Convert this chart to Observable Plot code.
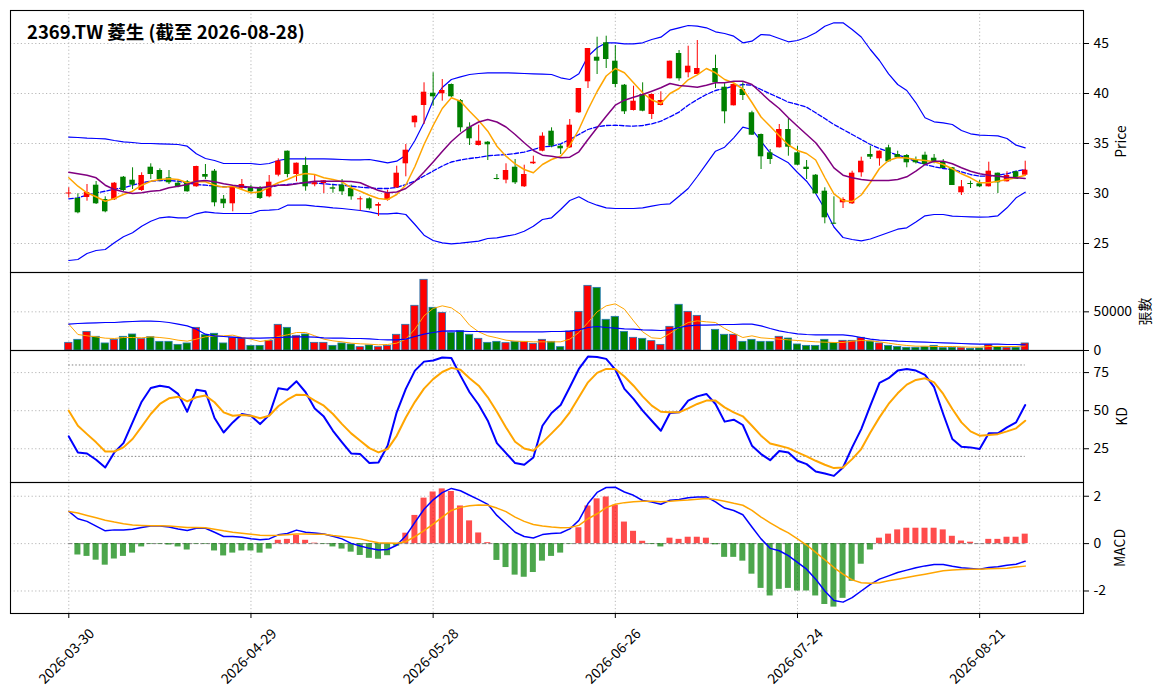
<!DOCTYPE html>
<html><head><meta charset="utf-8">
<script src="https://cdn.jsdelivr.net/npm/d3@7"></script>
<script src="https://cdn.jsdelivr.net/npm/@observablehq/plot@0.6"></script>
<style>
body{margin:0;background:#fff;}
#chart{position:relative;width:1163px;height:698px;overflow:hidden;}
#chart svg{position:absolute;left:0;overflow:visible !important;background:transparent !important;}
</style></head><body><div id="chart"></div>
<script>
const title = "2369.TW 菱生 (截至 2026-08-28)";
const tickIndex = [0, 20, 40, 60, 80, 100];
const tickLabels = ["2026-03-30", "2026-04-29", "2026-05-28", "2026-06-26", "2026-07-24", "2026-08-21"];

const open = [
29.95,29.5,29.6,30.83,29.4,29.37,31.63,31.33,30.3,32.63,
32.3,31.57,31.03,31.17,30.67,31.9,32.23,29.43,28.97,30.5,
30.63,30.5,29.67,31.83,34.23,31.9,32.8,30.87,31.0,30.57,
30.83,30.5,29.37,29.47,28.73,29.33,30.57,32.97,37.07,38.8,
40.03,39.97,40.9,39.3,36.63,34.8,35.13,31.5,31.33,32.63,
30.67,32.97,34.23,36.23,34.73,34.57,38.07,41.17,43.63,45.07,
43.23,40.83,38.3,39.9,37.9,38.8,41.47,44.0,42.07,41.9,
42.5,42.5,40.63,38.77,40.4,38.07,35.9,34.07,34.57,36.4,
34.07,32.63,31.83,30.23,27.03,29.07,28.97,32.07,33.9,33.47,
34.57,33.9,33.8,33.4,33.83,33.53,33.17,32.57,30.07,31.0,
30.97,30.67,32.03,31.17,32.17,31.83];
const high = [
30.57,29.97,30.9,31.2,29.67,31.1,31.7,32.57,32.07,32.97,
32.47,32.3,31.27,31.3,32.73,32.9,32.4,29.8,30.7,31.4,
30.83,30.7,31.8,33.47,34.25,33.05,33.63,31.83,31.3,30.83,
31.4,30.83,29.67,29.57,29.07,30.33,32.73,34.9,37.8,41.07,
42.07,41.4,40.95,39.4,37.07,36.83,35.2,31.9,32.97,33.4,
32.83,33.73,36.07,36.57,34.9,37.4,40.5,44.5,45.63,45.73,
44.8,40.9,40.73,41.07,39.95,40.17,43.25,44.3,44.73,45.3,
42.5,43.83,41.07,40.95,41.07,38.23,35.95,34.4,36.9,37.5,
34.73,33.3,31.9,30.57,29.67,29.57,32.23,33.63,34.73,34.25,
34.83,34.23,33.9,33.65,34.13,33.9,33.4,32.6,31.3,31.23,
31.3,33.13,32.05,32.17,32.2,33.23];
const low = [
29.57,27.97,29.23,28.9,28.07,29.3,30.2,30.4,30.2,31.4,
31.17,30.9,30.57,30.13,30.63,31.4,28.67,28.5,28.17,30.4,
29.97,29.4,29.57,31.67,31.57,31.17,30.23,30.67,30.0,30.03,
29.8,29.33,28.23,28.33,27.7,29.23,30.5,31.67,36.57,36.9,
38.73,39.23,39.6,36.13,34.8,34.75,33.3,31.35,30.97,30.9,
30.6,32.9,34.17,34.57,33.9,34.5,38.0,40.5,41.9,42.5,
40.57,37.9,38.25,38.17,37.4,38.75,41.45,41.23,41.57,41.9,
42.5,40.5,36.97,38.75,39.3,35.8,32.4,32.9,34.55,33.73,
32.8,31.4,29.9,26.97,26.9,28.5,28.9,31.63,33.4,32.73,
33.15,33.55,32.57,32.95,32.85,32.97,32.5,30.8,29.8,30.5,
30.6,30.65,30.0,31.15,31.4,31.73];
const close = [
30.05,28.07,30.1,28.97,28.17,31.03,30.3,30.83,31.8,31.9,
31.4,31.07,30.63,30.17,32.7,31.63,29.07,28.97,30.63,30.9,
30.17,29.5,31.13,33.23,31.9,33.03,30.67,31.07,31.27,30.43,
30.17,29.67,29.47,28.47,28.9,30.0,32.03,34.33,37.73,40.13,
39.67,40.3,39.67,36.57,35.47,35.23,34.87,31.4,32.3,31.07,
31.9,33.13,35.73,34.73,34.47,36.83,40.5,44.5,43.23,43.4,
40.9,38.17,39.23,38.23,39.9,39.3,43.23,41.47,42.73,42.5,
42.5,41.07,38.17,40.9,39.8,35.83,33.67,33.4,36.4,34.63,
32.83,32.4,29.97,27.57,26.93,29.4,32.03,33.23,33.63,34.23,
33.17,33.57,33.07,33.07,32.9,33.17,32.5,30.8,30.67,30.9,
30.67,32.23,31.07,31.8,31.4,32.33];
const ma5 = [
31.57,30.73,30.07,29.67,29.23,29.5,29.9,30.23,30.83,31.23,
31.4,31.47,31.4,31.07,31.17,31.17,30.83,30.63,30.73,30.4,
30.07,30.17,30.63,31.07,31.4,31.8,32.0,31.9,31.57,31.4,
31.17,30.57,30.23,29.83,29.5,29.4,29.9,30.85,32.7,34.9,
36.8,38.5,39.57,39.23,38.23,37.3,36.23,34.73,33.73,32.97,
32.4,32.07,32.9,33.4,33.73,34.8,36.4,38.4,40.2,41.75,
42.5,42.07,41.07,40.07,39.35,39.0,40.0,40.5,41.37,41.87,
42.5,42.07,41.4,41.05,40.45,39.1,37.65,36.73,35.77,34.85,
34.3,34.0,33.35,31.6,29.97,29.28,29.2,29.85,31.1,32.5,
33.3,33.6,33.55,33.4,33.3,33.17,32.9,32.47,31.97,31.57,
31.07,31.07,31.23,31.4,31.57,31.83];
const ma10 = [
32.13,31.97,31.83,31.57,30.83,30.4,30.17,30.0,30.07,30.23,
30.3,30.57,30.73,30.9,31.23,31.3,31.17,30.97,30.83,30.73,
30.63,30.57,30.7,30.83,30.83,30.97,31.1,31.23,31.23,31.23,
31.23,31.2,31.07,30.67,30.3,30.07,30.15,30.5,31.2,32.15,
33.15,34.2,35.2,36.0,36.65,37.15,37.4,37.15,36.65,35.9,
35.07,34.3,33.83,33.73,33.57,33.63,34.17,35.4,36.57,37.73,
38.83,39.33,39.63,39.9,40.23,40.57,41.0,40.8,40.73,40.63,
40.83,41.07,41.07,41.23,41.23,40.9,40.07,39.23,38.5,37.57,
36.73,35.9,35.07,33.9,32.57,31.83,31.57,31.4,31.3,31.3,
31.3,31.4,31.67,32.23,32.9,33.23,33.23,32.97,32.57,32.23,
31.97,31.83,31.73,31.63,31.57,31.5];
const ma20 = [
29.47,29.57,29.83,30.07,30.23,30.43,30.57,30.83,31.07,31.23,
31.3,31.3,31.23,31.07,30.9,30.83,30.73,30.67,30.67,30.63,
30.57,30.57,30.6,30.83,30.9,31.0,31.07,31.07,30.97,30.9,
30.83,30.73,30.63,30.57,30.5,30.5,30.6,30.9,31.25,31.75,
32.25,32.75,33.15,33.35,33.5,33.62,33.77,33.83,33.9,34.0,
34.13,34.4,34.67,34.73,34.97,35.4,35.9,36.4,36.67,36.8,
36.83,36.77,36.73,36.8,36.97,37.23,37.67,38.13,38.83,39.4,
39.9,40.3,40.5,40.73,40.9,40.83,40.4,39.97,39.57,39.13,
38.9,38.63,38.07,37.5,36.9,36.4,35.9,35.4,34.9,34.5,
34.17,33.83,33.57,33.17,32.9,32.67,32.5,32.4,32.17,31.9,
31.73,31.73,31.83,31.97,32.23,32.4];
const bbUpper = [
35.63,35.6,35.53,35.5,35.47,35.3,35.17,35.1,35.0,35.0,
34.97,34.93,34.9,34.73,33.97,33.5,33.3,33.0,33.0,33.0,
33.0,32.9,33.0,33.3,33.47,33.47,33.47,33.47,33.47,33.43,
33.4,33.37,33.37,33.4,33.23,33.07,33.23,33.83,35.3,37.1,
39.3,40.6,41.4,41.67,41.9,42.0,42.07,42.07,42.07,42.03,
42.0,41.97,41.93,41.9,41.57,41.4,41.97,43.73,44.57,45.07,
45.07,44.97,44.97,45.07,45.4,45.63,46.33,46.57,46.8,46.73,
46.57,46.17,46.0,45.73,45.07,45.23,45.9,45.83,45.5,45.17,
45.3,45.63,46.07,46.73,47.07,47.07,46.4,45.65,44.4,43.3,
41.97,40.9,40.3,39.07,37.57,37.17,37.07,36.9,36.3,35.97,
35.83,35.8,35.77,35.5,34.83,34.57];
const bbLower = [
23.3,23.4,24.0,24.3,24.4,25.07,25.67,26.07,26.73,27.23,
27.57,27.67,27.57,27.57,27.97,28.17,28.07,28.0,28.0,28.0,
28.0,28.3,28.33,28.4,28.83,28.83,28.83,28.73,28.67,28.57,
28.5,28.4,28.3,28.17,27.97,27.97,28.03,27.9,26.9,25.83,
25.3,25.07,24.97,25.03,25.13,25.23,25.5,25.57,25.73,25.9,
26.23,26.73,27.4,27.57,28.4,29.3,29.67,29.17,28.83,28.57,
28.5,28.5,28.5,28.57,28.73,28.9,28.97,29.73,30.5,31.7,
32.97,34.23,34.63,35.57,36.63,36.4,35.23,34.07,33.57,33.07,
32.1,31.23,30.0,28.45,26.65,25.6,25.4,25.27,25.45,25.78,
26.1,26.43,26.57,27.15,27.77,27.9,27.9,27.73,27.7,27.67,
27.63,27.67,27.77,28.57,29.57,30.13];
const volume = [
9900,13800,24100,17700,9100,13800,17700,20700,14700,17200,
11200,11200,7300,9100,29300,19800,21600,9100,16400,15500,
6000,6000,12500,33200,29300,19000,20700,9900,9900,6000,
9100,7800,4300,6500,4300,6000,20300,33200,57800,91400,
55200,48700,22800,25000,20300,15100,9900,11200,9500,11200,
11200,8600,13800,11200,4300,24600,50000,83600,81000,39700,
43500,24100,16400,15100,12100,7300,30600,59100,50000,44800,
0,26700,20300,20300,11200,13800,11200,11200,17700,15500,
7800,6000,6000,13800,9500,12500,12500,16400,11600,9100,
6000,4700,3500,3500,4300,6000,3000,3500,3000,2200,
2600,6900,4700,3500,3500,9100];
const volMa5 = [
34050,20690,18960,17670,15950,15520,16810,16810,16380,17670,
16810,15520,13360,12070,14650,17670,18960,18960,19830,16810,
14650,11640,13360,18100,20260,23270,23270,18960,14650,12500,
11200,9480,8620,8190,7330,7760,9480,14650,27580,44820,
54310,57750,55170,46980,32760,24140,18960,16380,13360,12070,
11640,11200,11200,11200,11200,14650,23270,36200,50000,57750,
60340,53440,38360,24140,16380,15520,21980,29740,36200,38360,
37070,36200,28450,22410,16810,18960,16380,15520,14650,13800,
12930,12070,11200,10780,10340,10340,12070,12930,12500,11200,
9480,7760,6470,5600,5600,5170,5170,5170,4740,4310,
4310,5170,5170,5170,5170,6030];
const volMa20 = [
34050,34910,35340,35770,36200,36200,37070,37500,37930,37930,
37500,36200,34050,31890,27580,21120,18960,18100,17240,16380,
15950,15950,16380,16810,17240,17670,17670,17240,16380,15950,
15950,15520,15520,15090,14220,13800,13800,14650,18100,21120,
23270,25000,25430,25000,24570,24570,24140,24140,24140,24140,
24140,24140,24140,24570,24570,25000,26720,29740,31030,29740,
28880,28020,27580,26720,26290,25860,26720,29740,31890,32760,
32760,33190,33620,33620,34050,34050,31890,28450,25430,23270,
21550,20690,20260,20260,20260,20260,18960,16810,14650,13360,
12930,12070,11640,11200,10780,10340,9910,9480,9050,8620,
8190,8190,8190,7760,7760,7330];
const kValues = [
33.1,22.6,21.9,17.8,12.7,22.6,28.7,42.3,55.9,64.9,
66.4,65.4,61.0,49.3,63.8,62.7,45.2,35.7,42.3,47.8,
46.7,41.2,47.1,64.7,63.8,69.3,62.1,51.5,46.1,36.8,
29.2,21.9,21.5,15.6,16.0,27.0,48.9,64.3,76.3,82.2,
82.9,84.9,84.6,73.0,62.1,53.9,43.4,28.7,22.1,15.6,
14.5,19.3,40.1,48.5,53.7,65.4,77.4,85.5,85.3,84.0,
77.0,64.3,57.7,50.0,43.4,36.8,48.5,48.9,56.6,59.4,
61.0,54.4,42.8,44.1,40.6,27.0,21.5,17.5,23.5,22.6,
17.1,14.9,10.1,8.8,7.2,12.7,25.9,37.9,53.3,68.2,
71.3,76.3,77.4,76.3,73.5,65.4,47.8,31.4,26.3,25.9,
24.8,35.1,35.1,39.0,42.3,53.7];
const dValues = [
50.0,40.1,34.6,29.2,23.2,23.2,25.9,31.4,39.5,47.8,
54.4,58.1,59.2,56.1,58.8,59.9,55.5,48.9,46.7,47.1,
46.7,45.0,46.7,52.9,57.2,60.5,60.3,56.6,53.3,47.8,
41.2,35.1,30.3,25.4,22.6,24.8,33.5,45.5,55.8,64.5,
70.7,75.4,78.1,76.8,71.3,66.4,58.8,49.3,39.0,29.6,
25.2,23.7,29.2,35.1,41.2,48.9,58.8,68.6,74.8,77.4,
77.4,72.4,66.4,59.4,53.3,49.3,48.9,48.9,51.5,54.4,
56.6,56.6,52.2,48.9,46.3,40.1,33.6,28.5,27.0,25.4,
22.6,20.0,17.1,14.5,12.3,12.7,18.2,24.8,35.7,45.6,
54.4,61.4,67.1,70.2,71.3,68.6,61.0,51.1,42.3,36.4,
33.6,34.0,34.6,36.4,38.4,43.4];
const kdRefs = [20, 80];
const dif = [
1.36,1.05,0.94,0.74,0.54,0.58,0.58,0.61,0.68,0.74,
0.74,0.70,0.62,0.55,0.65,0.65,0.48,0.30,0.30,0.27,
0.21,0.16,0.20,0.37,0.43,0.57,0.48,0.45,0.41,0.31,
0.20,0.01,-0.10,-0.20,-0.27,-0.25,-0.07,0.33,0.90,1.45,
1.85,2.15,2.33,2.23,2.04,1.86,1.66,1.19,0.84,0.48,
0.30,0.24,0.38,0.43,0.45,0.62,0.98,1.69,2.16,2.37,
2.38,2.18,2.04,1.82,1.76,1.66,1.83,1.86,1.94,1.97,
1.97,1.76,1.50,1.40,1.22,0.70,0.20,-0.20,-0.30,-0.51,
-0.79,-1.08,-1.50,-2.00,-2.40,-2.47,-2.28,-2.00,-1.72,-1.50,
-1.36,-1.22,-1.12,-1.02,-0.94,-0.88,-0.88,-0.96,-1.02,-1.05,
-1.08,-1.01,-0.98,-0.91,-0.87,-0.74];
const dea = [
1.36,1.29,1.19,1.09,0.99,0.91,0.84,0.79,0.77,0.75,
0.75,0.74,0.71,0.68,0.68,0.67,0.61,0.54,0.48,0.44,
0.40,0.35,0.34,0.35,0.37,0.41,0.41,0.40,0.40,0.34,
0.30,0.26,0.20,0.11,0.04,0.03,0.02,0.08,0.30,0.55,
0.82,1.12,1.40,1.53,1.60,1.63,1.62,1.50,1.35,1.12,
0.94,0.81,0.74,0.70,0.67,0.68,0.77,1.05,1.26,1.52,
1.66,1.73,1.77,1.79,1.79,1.77,1.79,1.82,1.84,1.87,
1.90,1.86,1.79,1.70,1.62,1.40,1.12,0.88,0.65,0.45,
0.20,-0.06,-0.37,-0.68,-1.01,-1.29,-1.53,-1.65,-1.67,-1.65,
-1.57,-1.50,-1.43,-1.36,-1.29,-1.22,-1.15,-1.11,-1.09,-1.08,
-1.08,-1.06,-1.05,-1.04,-0.99,-0.95];
const macdHist = [
0,-0.48,-0.54,-0.70,-0.91,-0.65,-0.54,-0.40,-0.14,-0.02,
-0.02,-0.06,-0.14,-0.27,-0.02,-0.02,-0.31,-0.52,-0.40,-0.31,
-0.31,-0.40,-0.23,0.14,0.18,0.35,0.14,0.02,-0.02,-0.14,
-0.23,-0.36,-0.50,-0.62,-0.66,-0.51,-0.11,0.44,1.19,1.92,
2.18,2.31,2.20,1.59,0.96,0.45,0.04,-0.71,-1.01,-1.33,
-1.42,-1.22,-0.74,-0.54,-0.40,-0.02,0.67,1.59,1.89,1.97,
1.62,0.91,0.52,0.10,-0.03,-0.14,0.23,0.18,0.27,0.27,
0.23,-0.05,-0.58,-0.58,-0.74,-1.29,-1.89,-2.21,-1.93,-1.89,
-2.00,-2.00,-2.21,-2.57,-2.68,-2.31,-1.59,-0.87,-0.27,0.23,
0.40,0.58,0.65,0.65,0.65,0.65,0.58,0.31,0.11,0.06,
0.00,0.18,0.18,0.27,0.27,0.40];

const n = close.length;
const rows = d3.range(n).map(i => ({
  i, o: open[i], h: high[i], l: low[i], c: close[i], v: volume[i],
  up: close[i] >= open[i], m: macdHist[i]
}));
const UP = "#ff0000", DOWN = "#008000";
const FONT = "'Noto Sans CJK TC','Noto Sans CJK SC','Noto Sans',sans-serif";
const W = 1163, ML = 10, MR = 80;
const xScale = {type: "linear", domain: [-6.4, 111.4], axis: null};
const GRID = {stroke: "#b0b0b0", strokeOpacity: 1, strokeDasharray: "1.2,2.4", strokeWidth: 0.9};
const seriesX = (d, i) => i;

function gridX() { return Plot.gridX({ticks: tickIndex, ...GRID}); }
function gridY(ticks) { return Plot.gridY({ticks, ...GRID}); }
function axisR(ticks) {
  return Plot.axisY({anchor: "right", ticks, tickSize: 5, tickPadding: 5, tickFormat: d => String(d),
    label: null, fontSize: 13.9, fill: "#000", stroke: "#000"});
}
function ylabel(text, dx) {
  return Plot.text([text], {frameAnchor: "right", dx, rotate: -90, textAnchor: "middle",
    lineAnchor: "middle", fontSize: 13.9, fill: "#000"});
}
function line(values, stroke, strokeWidth, extra = {}) {
  return Plot.line(values, {x: seriesX, y: d => d, stroke, strokeWidth, ...extra});
}
function panel(top, height, marginTop, marginBottom, ydomain, marks) {
  const svg = Plot.plot({
    width: W, height, marginLeft: ML, marginRight: MR, marginTop, marginBottom,
    x: xScale, y: {domain: ydomain, axis: null},
    style: {fontFamily: FONT, fontSize: "13.9px", background: "transparent", overflow: "visible", color: "#000"},
    marks: [...marks, Plot.frame({stroke: "#000", strokeWidth: 1.1})]
  });
  svg.style.top = (top - marginTop) + "px";
  document.getElementById("chart").append(svg);
}

// Price panel
panel(10, 272, 10, 0, [22.1, 48.3], [
  gridX(), gridY([25, 30, 35, 40, 45]),
  line(bbUpper, "#0000ff", 1.2),
  line(bbLower, "#0000ff", 1.2),
  line(ma20, "#0000ff", 1.3, {strokeDasharray: "4.5,2"}),
  Plot.ruleX(rows, {x: "i", y1: "l", y2: "h", stroke: d => d.up ? UP : DOWN, strokeWidth: 1}),
  Plot.rect(rows, {x1: d => d.i - 0.3, x2: d => d.i + 0.3, y1: "o", y2: "c", fill: d => d.up ? UP : DOWN}),
  line(ma5, "orange", 1.5),
  line(ma10, "purple", 1.5),
  axisR([25, 30, 35, 40, 45]),
  ylabel("Price", 38),
  Plot.text([title], {frameAnchor: "top-left", dx: 16.5, dy: 15, textAnchor: "start", lineAnchor: "top",
    fontSize: 18.5, fontWeight: "bold", fill: "#000"})
]);

// Volume panel
panel(272, 78, 0, 0, [0, 100860], [
  gridX(), gridY([0, 50000]),
  Plot.rect(rows.filter(d => d.v > 0), {x1: d => d.i - 0.4, x2: d => d.i + 0.4, y1: 0, y2: "v",
    fill: d => d.up ? UP : DOWN, stroke: "#1f77b4", strokeWidth: 0.8}),
  line(volMa5, "orange", 1),
  line(volMa20, "#0000ff", 1.2),
  axisR([0, 50000]),
  ylabel("張數", 62)
]);

// KD panel
panel(350, 132, 0, 0, [2.85, 89.5], [
  gridX(), gridY([25, 50, 75]),
  Plot.ruleY(kdRefs, {y: d => d, x1: () => 0, x2: () => n - 1, stroke: "#808080", strokeDasharray: "1.5,2", strokeWidth: 1}),
  line(kValues, "#0000ff", 2),
  line(dValues, "orange", 2),
  axisR([25, 50, 75]),
  ylabel("KD", 39)
]);

// MACD panel
panel(482, 216, 0, 85, [-2.95, 2.58], [
  gridX(), gridY([-2, 0, 2]),
  Plot.ruleY([0], {y: d => d, x1: () => 0, x2: () => n - 1, stroke: "#808080", strokeDasharray: "4,2", strokeWidth: 1}),
  Plot.rect(rows, {x1: d => d.i - 0.33, x2: d => d.i + 0.33, y1: 0, y2: "m",
    fill: d => d.m >= 0 ? UP : DOWN, fillOpacity: 0.7}),
  line(dif, "#0000ff", 1.5),
  line(dea, "orange", 1.5),
  axisR([-2, 0, 2]),
  ylabel("MACD", 37),
  Plot.axisX({ticks: tickIndex, tickSize: 5, tickFormat: () => "", label: null, stroke: "#000"}),
  Plot.text(tickIndex, {x: d => d, frameAnchor: "bottom", dx: -2, dy: 43, rotate: -45,
    text: (d, i) => tickLabels[i], textAnchor: "middle", lineAnchor: "middle", fontSize: 13.9, fill: "#000"})
]);
</script></body></html>
